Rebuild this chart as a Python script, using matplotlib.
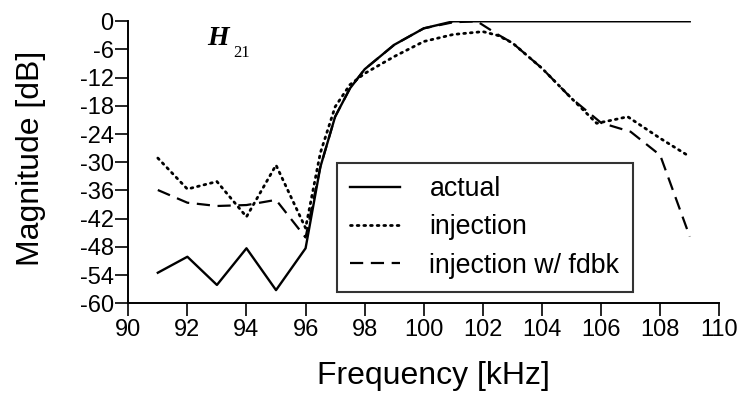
import matplotlib
matplotlib.use("Agg")
import matplotlib.pyplot as plt

plt.rcParams['font.family'] = ['Liberation Sans', 'DejaVu Sans']
plt.rcParams['lines.scale_dashes'] = False

# data
freq_actual = [91, 92, 93, 94, 95, 96, 96.5, 97, 97.5, 98, 99, 100, 101,
               102, 103, 104, 105, 106, 107, 108, 109]
mag_actual = [-53.5, -50.1, -56.1, -48.3, -57.2, -48.3, -31.0, -20.3, -14.3,
              -10.2, -5.0, -1.5, 0, 0, 0, 0, 0, 0, 0, 0, 0]

freq_inj = [91, 92, 93, 94, 95, 96, 96.5, 97, 97.5, 98, 99, 100, 101, 102,
            102.5, 103, 104, 105, 105.85, 106.4, 106.9, 108, 109]
mag_inj = [-29.1, -35.7, -34.1, -41.6, -30.6, -44.0, -28.0, -18.2, -13.5,
           -11.1, -7.5, -4.3, -2.8, -2.2, -3.0, -4.6, -10.0, -16.4, -21.7,
           -21.0, -20.3, -24.9, -28.8]

freq_fb = [91, 92, 93, 94, 95, 96, 96.5, 97, 97.5, 98, 99, 100, 101, 101.8,
           102, 102.5, 103, 104, 105, 106, 107, 108, 109]
mag_fb = [-35.9, -38.6, -39.3, -39.1, -38.0, -46.0, -31.0, -20.3, -14.3,
          -10.2, -5.0, -1.5, -0.2, 0, -0.8, -2.8, -4.6, -10.0, -16.4, -21.6,
          -23.5, -28.5, -45.8]

xticks = list(range(90, 111, 2))
yticks = list(range(-60, 1, 6))

fig = plt.figure(figsize=(7.41, 3.98), dpi=100)
ax = fig.add_axes([0.1731, 0.238, 0.7976, 0.7085])

ax.plot(freq_actual, mag_actual, color='black', lw=1.7, label='actual')
ax.plot(freq_inj, mag_inj, color='black', lw=2.0, linestyle=(0, (1.3, 3.5)),
        dash_capstyle='round', label='injection')
ax.plot(freq_fb, mag_fb, color='black', lw=1.6, linestyle=(0, (9.5, 5.5)),
        label='injection w/ fdbk')

ax.set_xlim(90, 110)
ax.set_ylim(-60, 0)
ax.set_xticks(xticks)
ax.set_yticks(yticks)
ax.set_xticklabels([str(t) for t in xticks])
ax.set_yticklabels([str(t) for t in yticks])
ax.tick_params(axis='both', direction='out', length=9.5, width=1.2,
               labelsize=17, color='black')
ax.tick_params(axis='x', pad=2)
ax.tick_params(axis='y', pad=1)
for s in ['top', 'right']:
    ax.spines[s].set_visible(False)
for s in ['left', 'bottom']:
    ax.spines[s].set_linewidth(1.4)

ax.set_xlabel('Frequency [kHz]', fontsize=23)
ax.set_ylabel('Magnitude [dB]', fontsize=23)
ax.xaxis.set_label_coords(0.516, -0.205)
ax.yaxis.set_label_coords(-0.14, 0.515)

leg = ax.legend(loc='lower left', bbox_to_anchor=(0.353, 0.04), fontsize=19.3,
                frameon=True, fancybox=False, handlelength=1.85,
                handletextpad=1.1, labelspacing=0.46, borderpad=0.5,
                borderaxespad=0)
leg.get_frame().set_edgecolor('black')
leg.get_frame().set_linewidth(1.5)

fig.text(207 / 741, 1 - 45 / 398, 'H', family='Liberation Serif',
         style='italic', weight='bold', fontsize=20, va='baseline')
fig.text(233 / 741, 1 - 57 / 398, '21', family='Liberation Serif',
         fontsize=12, va='baseline')

fig.savefig('out.png', dpi=100)
